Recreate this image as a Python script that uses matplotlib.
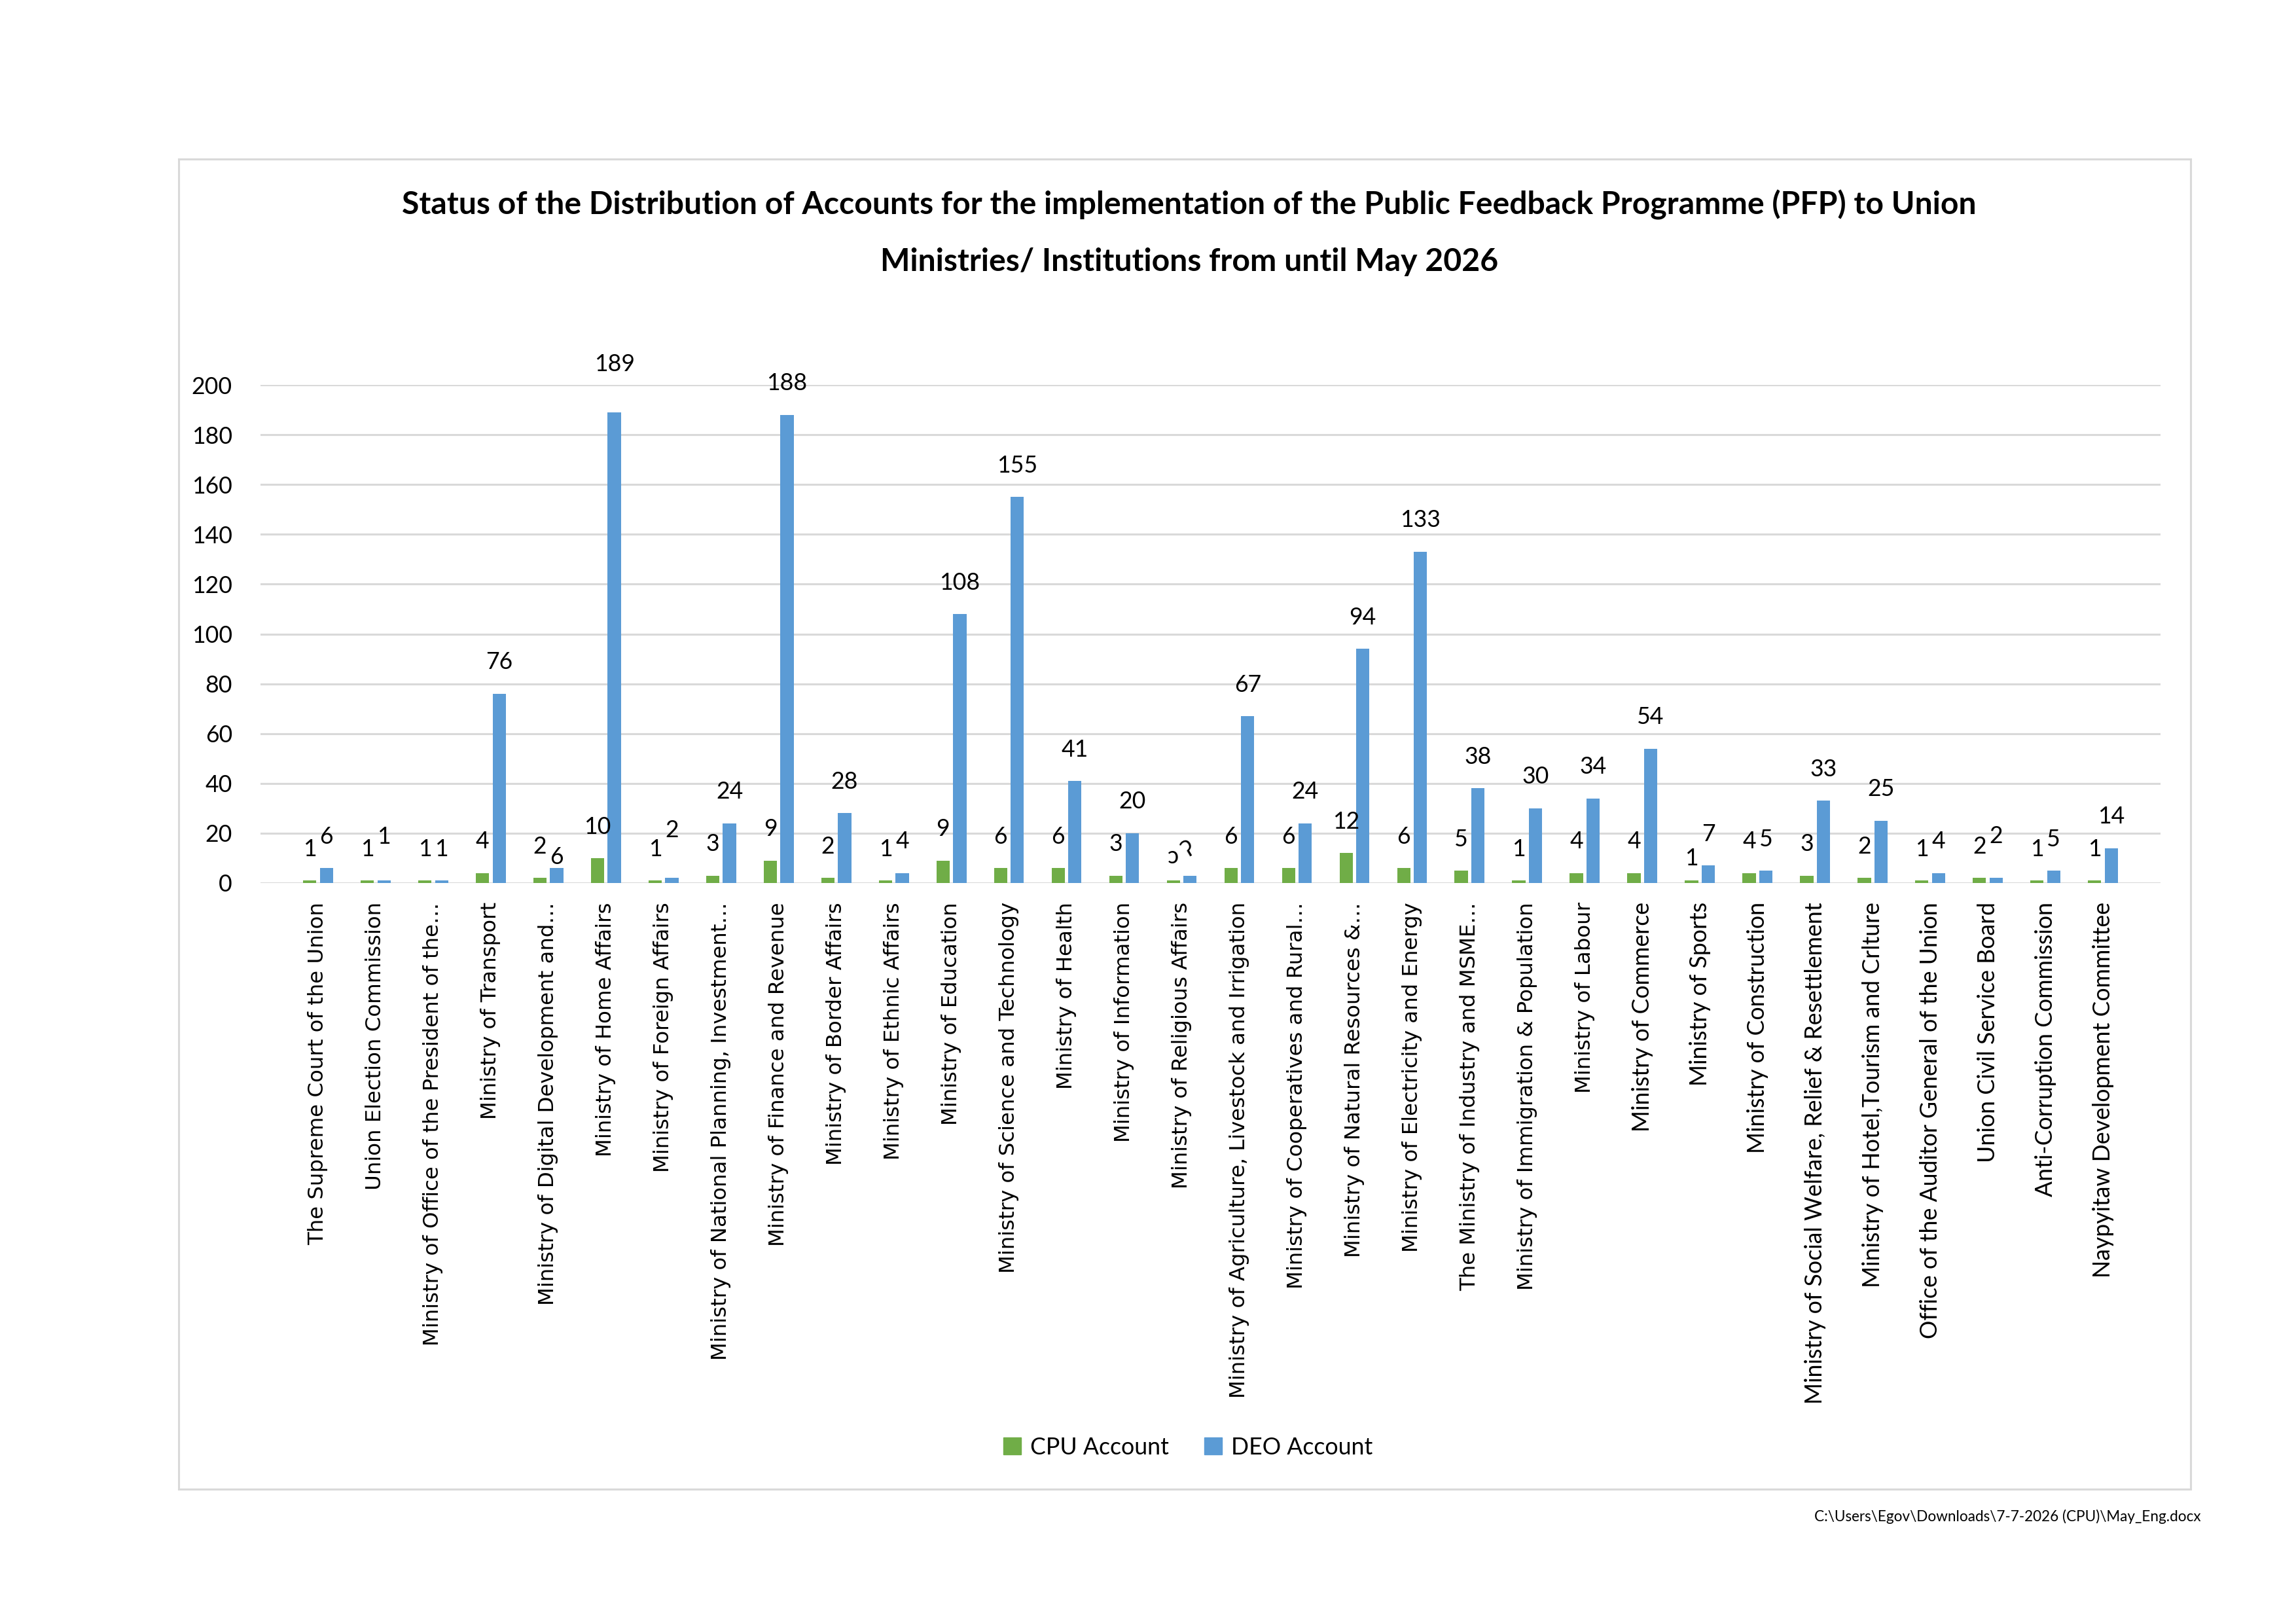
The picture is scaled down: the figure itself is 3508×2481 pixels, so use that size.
import numpy as np
import matplotlib
matplotlib.use("Agg")
import matplotlib.pyplot as plt
from matplotlib import font_manager
from matplotlib.patches import Patch, Rectangle

# data
categories = [
    "The Supreme Court of the Union",
    "Union Election Commission",
    "Ministry of Office of the President of the\u2026",
    "Ministry of Transport",
    "Ministry of Digital Development and\u2026",
    "Ministry of Home Affairs",
    "Ministry of Foreign Affairs",
    "Ministry of National Planning, Investment\u2026",
    "Ministry of Finance and Revenue",
    "Ministry of Border Affairs",
    "Ministry of Ethnic Affairs",
    "Ministry of Education",
    "Ministry of Science and Technology",
    "Ministry of Health",
    "Ministry of Information",
    "Ministry of Religious Affairs",
    "Ministry of Agriculture, Livestock and Irrigation",
    "Ministry of Cooperatives and Rural\u2026",
    "Ministry of Natural Resources &\u2026",
    "Ministry of Electricity and Energy",
    "The Ministry of Industry and MSME\u2026",
    "Ministry of Immigration & Population",
    "Ministry of Labour",
    "Ministry of Commerce",
    "Ministry of Sports",
    "Ministry of Construction",
    "Ministry of Social Welfare, Relief & Resettlement",
    "Ministry of Hotel,Tourism and Crlture",
    "Office of the Auditor General of the Union",
    "Union Civil Service Board",
    "Anti-Corruption Commission",
    "Naypyitaw Development Committee",
]
cpu = [1, 1, 1, 4, 2, 10, 1, 3, 9, 2, 1, 9, 6, 6, 3, 1, 6, 6, 12, 6, 5, 1, 4, 4, 1, 4, 3, 2, 1, 2, 1, 1]
deo = [6, 1, 1, 76, 6, 189, 2, 24, 188, 28, 4, 108, 155, 41, 20, 3, 67, 24, 94, 133, 38, 30, 34, 54, 7, 5, 33, 25, 4, 2, 5, 14]
cpu_text = [str(v) for v in cpu]
deo_text = [str(v) for v in deo]
# the religious affairs labels are shown as Myanmar digits in the original
cpu_text[15] = "\u0254"
deo_text[15] = "\u0294"
series_names = ["CPU Account", "DEO Account"]
yticks = list(range(0, 201, 20))

title1 = "Status of the Distribution of Accounts for the implementation of the Public Feedback Programme (PFP) to Union"
title2 = "Ministries/ Institutions from until May 2026"
footer = "C:\\Users\\Egov\\Downloads\\7-7-2026 (CPU)\\May_Eng.docx"

green = "#70AD47"
blue = "#5B9BD5"
grid = "#D9D9D9"

names = {f.name for f in font_manager.fontManager.ttflist}
body = "Lato" if "Lato" in names else "DejaVu Sans"
alt = "DejaVu Sans"

W, H, DPI = 3508, 2481, 100
fig = plt.figure(figsize=(W / DPI, H / DPI), dpi=DPI)
renderer = fig.canvas.get_renderer()


def size_for(s, family, width_px, weight="normal"):
    t = fig.text(0, 0, s, fontsize=20, family=family, weight=weight)
    w = t.get_window_extent(renderer).width
    t.remove()
    return 20 * width_px / w


fs_body = size_for("Naypyitaw Development Committee", body, 574)
fs_alt = size_for("The Supreme Court of the Union", alt, 524)
fs_title = size_for(title1, body, 2406, "bold")
fs_foot = size_for(footer, body, 590)

# outer chart border
fig.patches.append(Rectangle((273 / W, 1 - 2275 / H), 3074 / W, 2032 / H,
                             transform=fig.transFigure, fill=False,
                             edgecolor=grid, linewidth=2.2))

fig.text(1817 / W, 1 - 313 / H, title1, ha="center", va="center",
         fontsize=fs_title, weight="bold", family=body)
fig.text(1817 / W, 1 - 400 / H, title2, ha="center", va="center",
         fontsize=fs_title, weight="bold", family=body)

ax = fig.add_axes([398 / W, 1 - 1349 / H, 2903 / W, 761 / H])
x = np.arange(len(categories))
bw = 0.23
ax.bar(x - 0.145, cpu, bw, color=green, zorder=3)
ax.bar(x + 0.145, deo, bw, color=blue, zorder=3)

ax.set_xlim(-1, len(categories))
ax.set_ylim(0, 200)
ax.set_yticks(yticks)
ax.yaxis.grid(True, color=grid, linewidth=2.2, zorder=0)
ax.set_axisbelow(True)
for s in ax.spines.values():
    s.set_visible(False)
ax.tick_params(axis="both", length=0)
ax.tick_params(axis="y", pad=31, labelsize=fs_body)
for t in ax.get_yticklabels():
    t.set_family(body)

ax.set_xticks(x, categories, rotation=90, ha="center", va="top")
ax.tick_params(axis="x", pad=21)
for i, t in enumerate(ax.get_xticklabels()):
    if i < 23:
        t.set_family(alt)
        t.set_fontsize(fs_alt)
    else:
        t.set_family(body)
        t.set_fontsize(fs_body)

# value labels, with the few that the original chart moved
off = 12.6
nudge_cpu = {15: -3.0, 24: -3.8}
nudge_deo = {1: 4.8, 4: -8.3, 5: 6.8, 6: 6.6, 15: -2.3, 29: 4.2}
for i in range(len(categories)):
    ax.text(x[i] - 0.145, cpu[i] + off + nudge_cpu.get(i, 0), cpu_text[i],
            ha="center", va="center", fontsize=fs_body, family=body)
    rot = 30 if i == 15 else 0
    ax.text(x[i] + 0.145, deo[i] + off + nudge_deo.get(i, 0), deo_text[i],
            ha="center", va="center", fontsize=fs_body, family=body, rotation=rot)

hl = 27 / (fs_body * DPI / 72)
fig.legend(handles=[Patch(color=green), Patch(color=blue)], labels=series_names,
           loc="center", bbox_to_anchor=(1815 / W, 1 - 2211 / H), ncol=2,
           frameon=False, prop={"family": body, "size": fs_body},
           handlelength=hl, handleheight=hl, handletextpad=0.4, columnspacing=1.5)

fig.text(3363 / W, 1 - 2317 / H, footer, ha="right", va="center",
         fontsize=fs_foot, family=body)

fig.savefig("out.png", dpi=DPI, facecolor="white")
